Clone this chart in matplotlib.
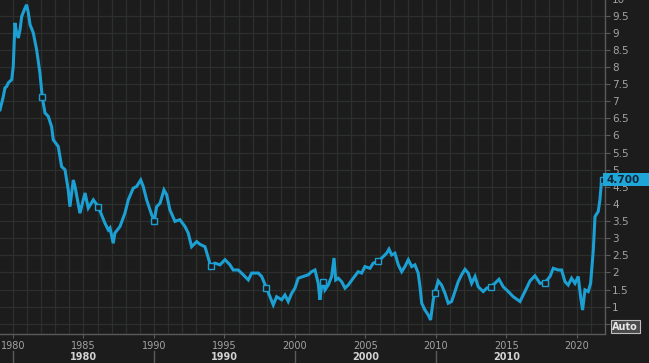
import numpy as np
import matplotlib
matplotlib.use("Agg")
import matplotlib.pyplot as plt
import matplotlib.transforms as mtransforms
from matplotlib.patches import Rectangle

# series (decimal year, value)
years = [1979.08, 1979.31, 1979.43, 1979.55, 1979.67, 1979.91, 1980.02, 1980.14, 1980.26, 1980.38,
         1980.50, 1980.62, 1980.85, 1980.97, 1981.09, 1981.21, 1981.44, 1981.68, 1981.91, 1982.08,
         1982.27, 1982.50, 1982.74, 1982.86, 1983.21, 1983.45, 1983.69, 1983.92, 1984.04, 1984.28,
         1984.40, 1984.75, 1985.11, 1985.34, 1985.70, 1986.05, 1986.52, 1986.76, 1986.88, 1987.11,
         1987.23, 1987.59, 1987.94, 1988.18, 1988.53, 1988.77, 1989.06, 1989.24, 1989.48, 1989.84,
         1990.02, 1990.19, 1990.43, 1990.71, 1990.90, 1991.13, 1991.49, 1991.84, 1992.20, 1992.43,
         1992.67, 1993.03, 1993.26, 1993.62, 1993.85, 1994.01, 1994.33, 1994.68, 1995.04, 1995.39,
         1995.62, 1995.98, 1996.33, 1996.69, 1996.93, 1997.40, 1997.64, 1997.98, 1998.23, 1998.46,
         1998.70, 1999.06, 1999.29, 1999.52, 1999.77, 2000.00, 2000.23, 2000.59, 2000.94, 2001.18,
         2001.42, 2001.65, 2001.77, 2001.89, 2002.01, 2002.13, 2002.36, 2002.60, 2002.77, 2002.89,
         2003.07, 2003.31, 2003.55, 2003.78, 2004.13, 2004.49, 2004.73, 2004.96, 2005.32, 2005.55,
         2005.91, 2006.26, 2006.50, 2006.67, 2006.86, 2007.09, 2007.33, 2007.57, 2007.80, 2008.04,
         2008.28, 2008.51, 2008.74, 2008.87, 2008.99, 2009.22, 2009.45, 2009.62, 2009.81, 2009.93,
         2010.16, 2010.40, 2010.64, 2010.87, 2011.11, 2011.35, 2011.58, 2011.82, 2012.06, 2012.29,
         2012.53, 2012.77, 2013.00, 2013.35, 2013.60, 2013.88, 2014.18, 2014.47, 2014.77, 2015.13,
         2015.48, 2015.96, 2016.31, 2016.67, 2017.02, 2017.38, 2017.73, 2018.09, 2018.32, 2018.67,
         2018.91, 2019.15, 2019.38, 2019.62, 2019.86, 2020.09, 2020.26, 2020.40, 2020.57, 2020.80,
         2020.97, 2021.16, 2021.28, 2021.51, 2021.63, 2021.75, 2021.87]
values = [6.75, 7.13, 7.39, 7.43, 7.54, 7.63, 8.02, 9.29, 9.00, 8.85,
          9.09, 9.48, 9.72, 9.82, 9.58, 9.24, 9.00, 8.50, 7.83, 7.11,
          6.66, 6.56, 6.26, 5.87, 5.68, 5.09, 5.00, 4.41, 3.92, 4.70,
          4.51, 3.73, 4.32, 3.88, 4.12, 3.92, 3.44, 3.24, 3.30, 2.85,
          3.15, 3.34, 3.73, 4.12, 4.46, 4.51, 4.70, 4.51, 4.12, 3.68,
          3.51, 3.92, 4.02, 4.41, 4.27, 3.83, 3.49, 3.54, 3.34, 3.15,
          2.75, 2.90, 2.82, 2.75, 2.42, 2.20, 2.27, 2.22, 2.37, 2.22,
          2.07, 2.07, 1.93, 1.78, 1.98, 1.98, 1.88, 1.54, 1.29, 1.05,
          1.29, 1.20, 1.34, 1.15, 1.39, 1.54, 1.83, 1.88, 1.93, 2.02,
          2.07, 1.68, 1.20, 1.58, 1.72, 1.49, 1.63, 1.88, 2.42, 1.78,
          1.83, 1.73, 1.54, 1.63, 1.83, 2.02, 1.98, 2.17, 2.12, 2.27,
          2.32, 2.46, 2.56, 2.68, 2.51, 2.56, 2.22, 2.02, 2.17, 2.37,
          2.17, 2.22, 1.98, 1.58, 1.10, 0.90, 0.76, 0.61, 1.20, 1.41,
          1.75, 1.63, 1.39, 1.10, 1.15, 1.44, 1.73, 1.93, 2.09, 1.98,
          1.68, 1.88, 1.58, 1.44, 1.54, 1.58, 1.68, 1.80, 1.58, 1.44,
          1.29, 1.15, 1.44, 1.75, 1.90, 1.68, 1.70, 1.88, 2.12, 2.07,
          2.07, 1.73, 1.63, 1.83, 1.68, 1.88, 1.29, 0.90, 1.49, 1.44,
          1.68, 2.66, 3.63, 3.78, 4.12, 4.70, 4.70]

marker_years = [1982.08, 1986.05, 1990.02, 1994.01, 1997.98, 2002.01, 2005.91, 2009.93, 2013.88, 2017.73]
major_years = [1980, 1985, 1990, 1995, 2000, 2005, 2010, 2015, 2020]
decade_labels = ['1980', '1990', '2000', '2010']
decade_mid = [1985, 1995, 2005, 2015]
decade_edges = [1980, 1990, 2000, 2010]
ytick_vals = [0.5, 1, 1.5, 2, 2.5, 3, 3.5, 4, 4.5, 5, 5.5, 6, 6.5, 7, 7.5, 8, 8.5, 9, 9.5, 10]

BG = '#1c1c1c'
GRID = '#2c302c'
LINE = '#1c9fd2'
TXT = '#a3a3a3'
AX = '#5a5a5a'

plt.rcParams['font.family'] = ['DejaVu Sans']
fig = plt.figure(figsize=(6.49, 3.63), dpi=100, facecolor=BG)
ax = fig.add_axes([0.0, 0.0799, 0.9322, 0.924], facecolor=BG)

ax.set_xlim(1979.08, 2021.99)
ax.set_ylim(0.2, 10.0)

# grid: every year, every 0.5
for yr in range(1980, 2022):
    ax.axvline(yr, color=GRID, lw=0.9, zorder=0)
for v in ytick_vals:
    ax.axhline(v, color=GRID, lw=0.9, zorder=0)

ax.plot(years, values, color=LINE, lw=2.2, solid_joinstyle='miter', zorder=3)
ax.plot(marker_years, np.interp(marker_years, years, values), ls='none', marker='s',
        ms=4.5, mfc=BG, mec=LINE, mew=1.0, zorder=4)
ax.plot([years[-1]], [values[-1]], ls='none', marker='s', ms=4.5, mfc=BG, mec=LINE, mew=1.0, zorder=4)

for s in ['top', 'left']:
    ax.spines[s].set_visible(False)
for s in ['right', 'bottom']:
    ax.spines[s].set_color(AX)
    ax.spines[s].set_linewidth(1.0)

ax.yaxis.tick_right()
ax.set_yticks(ytick_vals)
ax.set_yticklabels(['' if v == 0.5 else f'{v:g}' for v in ytick_vals])
ax.tick_params(axis='y', which='both', direction='out', length=3.5, width=0.8, color=AX,
               labelcolor=TXT, labelsize=7.5, pad=1.5)

ax.set_xticks(major_years)
ax.set_xticklabels([str(y) for y in major_years])
ax.tick_params(axis='x', direction='out', length=3.2, width=0.8, color=AX,
               labelcolor=TXT, labelsize=7, pad=1.5)

# second row: decade labels and long decade separators
tb = mtransforms.blended_transform_factory(ax.transData, ax.transAxes)
for lab, xm in zip(decade_labels, decade_mid):
    ax.text(xm, -0.069, lab, transform=tb, ha='center', va='center', fontsize=7,
            fontweight='bold', color='#d2d2d2', clip_on=False)
for xe in decade_edges:
    ax.plot([xe, xe], [-0.052, -0.12], transform=tb, color=AX, lw=1.0, clip_on=False)

# last value box
tr = mtransforms.blended_transform_factory(ax.transAxes, ax.transData)
fig.add_artist(Rectangle((0.996, values[-1] - 0.19), 0.08, 0.38, transform=tr,
                         facecolor='#1fa6d9', edgecolor='none', zorder=5))
fig.add_artist(plt.Text(1.003, values[-1], f'{values[-1]:.3f}', transform=tr, ha='left', va='center',
                        fontsize=7.5, fontweight='bold', color='#0c2636', zorder=6))

# "Auto" button
fig.text(0.9435, (363 - 326.5) / 363, 'Auto', ha='left', va='center', fontsize=7, fontweight='bold',
         color='#e6e6e6',
         bbox=dict(boxstyle='square,pad=0.15', facecolor='#4a4a4a', edgecolor='#c0c0c0', lw=0.8))

fig.savefig('out.png', dpi=100, facecolor=BG)
